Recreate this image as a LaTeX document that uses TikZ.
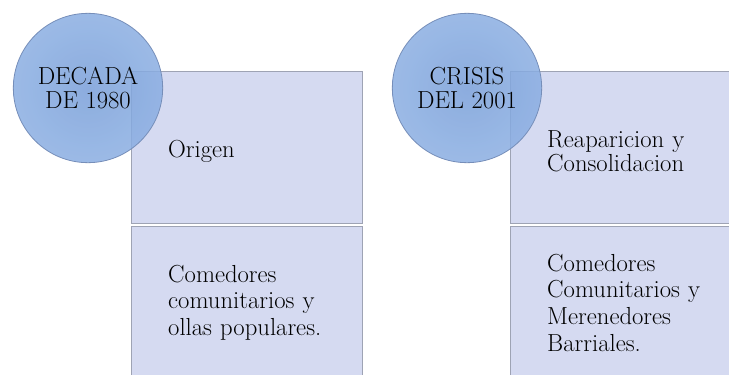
\documentclass[tikz,border=0pt]{standalone}
\usepackage{tikz}
\usetikzlibrary{shapes, positioning}
\usepackage{xcolor}
\definecolor{cajafondo}{RGB}{213,218,241}
\definecolor{cajaborde}{RGB}{158,163,180}
\definecolor{bolacentro}{RGB}{120,158,216}
\definecolor{bolaborde}{RGB}{138,174,226}
\definecolor{bolalinea}{RGB}{118,142,185}

\begin{document}
\begin{tikzpicture}[
    x=0.75pt, y=-0.75pt,
    caja/.style={rectangle, draw=cajaborde, fill=cajafondo, line width=0.8pt,
        minimum width=173pt, minimum height=114pt, inner xsep=27pt,
        text width=118pt, align=left, font=\fontsize{18.5}{20}\selectfont},
    etapa/.style={circle, draw=bolalinea, line width=0.6pt, minimum size=112pt,
        inner sep=0pt, inner color=bolacentro, outer color=bolaborde,
        fill opacity=0.85, text opacity=1, align=center,
        font=\fontsize{18.5}{18}\selectfont},
    node distance=1.5pt
]
\clip (0,0) rectangle (729,375);

% cajas
\node[caja, anchor=north west, text height=19pt] (origen) at (131,71) {Origen};
\node[caja, below=of origen] (ollas) {Comedores\\comunitarios y\\ollas populares.};
\node[caja, anchor=north west, text height=18pt, font=\fontsize{18.5}{18}\selectfont]
    (reaparicion) at (510,71) {Reaparicion y\\Consolidacion};
\node[caja, below=of reaparicion] (merenderos) {Comedores\\Comunitarios y\\Merenedores\\Barriales.};

% etapas
\node[etapa] (decada) at (88,88) {DECADA\\DE 1980};
\node[etapa] (crisis) at (467,88) {CRISIS\\DEL 2001};

\end{tikzpicture}
\end{document}
